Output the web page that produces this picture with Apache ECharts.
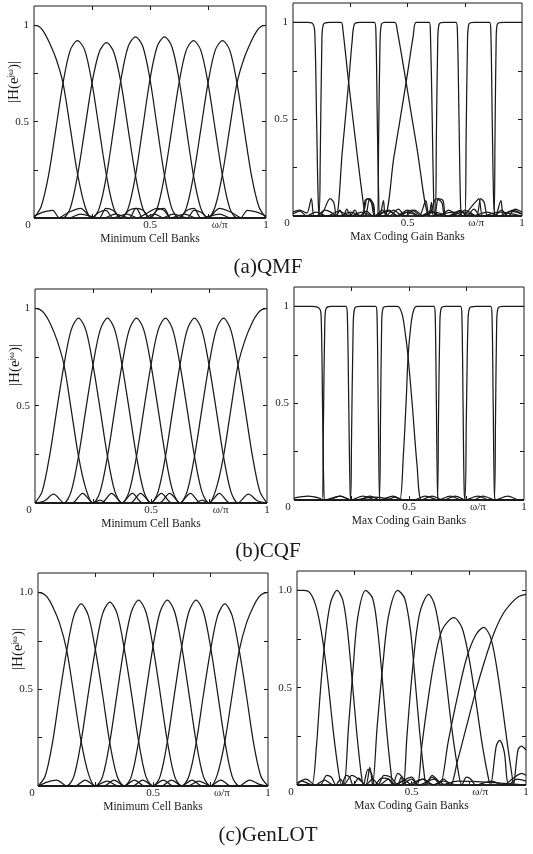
<!DOCTYPE html>
<html>
<head>
<meta charset="utf-8">
<script src="https://cdn.jsdelivr.net/npm/echarts@6/dist/echarts.min.js"></script>
<style>
  html, body { margin: 0; padding: 0; background: #fff; }
  #chart { width: 533px; height: 854px; }
</style>
</head>
<body>
<div id="chart"></div>
<script>
// 轴刻度与文字
const xTickValues = [0.25, 0.5, 0.75];
const xLabelValues = [0, 0.5, 0.8, 1];
const xLabelText = ['{z|0}', '0.5', 'ω/π', '1'];
const yTickValues = [0.25, 0.5, 0.75, 1];
const yLabelValues = [0.5, 1];
const yLabelText = [['0.5', '1'], ['0.5', '1'], ['0.5', '1.0']];
const xNames = ['Minimum Cell Banks', 'Max Coding Gain Banks'];
const captions = ['(a)QMF', '(b)CQF', '(c)GenLOT'];

// 每个面板 8 条幅频曲线 [ω/π, |H|]
const qmfMinCell = [
  [[0,1],[0.02,0.995],[0.04,0.97],[0.0625,0.92],[0.094,0.83],[0.125,0.7],[0.156,0.47],[0.1875,0.23],[0.22,0.06],[0.25,0],[0.28,0.03],[0.31,0.04],[0.34,0],[0.4,0.02],[0.45,0],[1,0]],
  [[0,0],[0.031,0.06],[0.0625,0.22],[0.094,0.46],[0.125,0.7],[0.156,0.87],[0.1875,0.92],[0.219,0.87],[0.25,0.7],[0.281,0.46],[0.3125,0.22],[0.344,0.05],[0.375,0],[0.41,0.04],[0.44,0.05],[0.47,0],[0.52,0.02],[0.56,0],[1,0]],
  [[0,0.01],[0.04,0.03],[0.08,0.04],[0.11,0],[0.125,0],[0.156,0.05],[0.1875,0.22],[0.219,0.46],[0.25,0.7],[0.281,0.86],[0.3125,0.91],[0.344,0.86],[0.375,0.7],[0.406,0.46],[0.4375,0.22],[0.469,0.05],[0.5,0],[0.53,0.04],[0.56,0.05],[0.59,0],[0.65,0.02],[0.7,0],[1,0]],
  [[0,0],[0.1,0],[0.15,0.03],[0.2,0.05],[0.25,0],[0.281,0.05],[0.3125,0.22],[0.344,0.47],[0.375,0.72],[0.406,0.89],[0.4375,0.94],[0.469,0.89],[0.5,0.72],[0.531,0.47],[0.5625,0.22],[0.594,0.05],[0.625,0],[0.66,0.04],[0.69,0.05],[0.72,0],[0.8,0.02],[0.85,0],[1,0]],
  [[0,0],[0.15,0],[0.2,0.02],[0.28,0],[0.31,0.05],[0.34,0.04],[0.375,0],[0.406,0.05],[0.4375,0.22],[0.469,0.47],[0.5,0.72],[0.531,0.89],[0.5625,0.94],[0.594,0.89],[0.625,0.72],[0.656,0.47],[0.6875,0.22],[0.719,0.05],[0.75,0],[0.8,0.05],[0.85,0.03],[0.9,0],[1,0]],
  [[0,0],[0.3,0],[0.35,0.02],[0.41,0],[0.44,0.05],[0.47,0.04],[0.5,0],[0.531,0.05],[0.5625,0.22],[0.594,0.46],[0.625,0.7],[0.656,0.87],[0.6875,0.92],[0.719,0.87],[0.75,0.7],[0.781,0.46],[0.8125,0.22],[0.844,0.05],[0.875,0],[0.89,0],[0.92,0.04],[0.96,0.03],[1,0.01]],
  [[0,0],[0.44,0],[0.48,0.02],[0.53,0.05],[0.56,0.04],[0.59,0],[0.625,0],[0.656,0.05],[0.6875,0.22],[0.719,0.46],[0.75,0.7],[0.781,0.87],[0.8125,0.92],[0.844,0.87],[0.875,0.7],[0.906,0.46],[0.9375,0.22],[0.969,0.06],[1,0]],
  [[0,0],[0.55,0],[0.6,0.02],[0.66,0],[0.69,0.04],[0.72,0.03],[0.75,0],[0.781,0.06],[0.8125,0.23],[0.844,0.47],[0.875,0.7],[0.906,0.83],[0.9375,0.92],[0.96,0.97],[0.98,0.995],[1,1]]
];

const qmfMaxGain = [
  [[0,1],[0.06,1],[0.085,0.995],[0.095,0.95],[0.103,0.5],[0.111,0.05],[0.118,0],[0.135,0.03],[0.162,0.09],[0.178,0.07],[0.19,0],[0.205,0.03],[0.22,0],[0.235,0.035],[0.25,0],[0.27,0.03],[0.29,0],[0.32,0.025],[0.35,0],[0.42,0.03],[0.45,0],[0.5,0.02],[0.55,0],[0.62,0.02],[0.68,0],[0.72,0.025],[0.78,0],[0.85,0.02],[0.9,0],[0.95,0.025],[1,0.01]],
  [[0,0.02],[0.03,0.03],[0.06,0.015],[0.08,0.09],[0.092,0],[0.112,0],[0.119,0.3],[0.126,0.9],[0.133,0.99],[0.16,1],[0.21,1],[0.218,0.96],[0.243,0.69],[0.28,0.32],[0.31,0.04],[0.318,0],[0.335,0.09],[0.352,0.06],[0.36,0],[0.39,0.03],[0.42,0],[0.46,0.035],[0.49,0],[0.53,0.03],[0.57,0],[0.61,0.02],[0.65,0],[1,0]],
  [[0,0],[0.1,0],[0.14,0.03],[0.165,0.02],[0.188,0],[0.215,0.33],[0.243,0.69],[0.258,0.9],[0.268,0.99],[0.29,1],[0.355,1],[0.362,0.95],[0.368,0.5],[0.375,0.05],[0.38,0],[0.395,0.08],[0.405,0],[0.44,0.03],[0.48,0],[0.7,0],[0.73,0.03],[0.76,0],[0.79,0.035],[0.82,0],[1,0]],
  [[0,0],[0.2,0],[0.25,0.02],[0.3,0],[0.325,0.09],[0.342,0.07],[0.355,0],[0.368,0],[0.374,0.4],[0.38,0.9],[0.386,0.99],[0.4,1],[0.445,1],[0.455,0.96],[0.494,0.69],[0.54,0.36],[0.594,0],[0.605,0.07],[0.615,0],[0.7,0.02],[0.75,0],[0.88,0],[0.91,0.03],[0.94,0],[0.97,0.035],[1,0.02]],
  [[0,0],[0.3,0],[0.315,0.08],[0.33,0.09],[0.35,0.05],[0.36,0],[0.399,0],[0.44,0.3],[0.494,0.69],[0.525,0.93],[0.538,1],[0.595,1],[0.6,0.95],[0.608,0.5],[0.615,0.05],[0.62,0],[0.635,0.09],[0.655,0.08],[0.67,0],[0.75,0.02],[0.8,0],[1,0]],
  [[0,0],[0.45,0],[0.5,0.03],[0.55,0],[0.58,0.08],[0.595,0],[0.62,0],[0.626,0.4],[0.632,0.9],[0.638,0.99],[0.66,1],[0.712,1],[0.718,0.95],[0.725,0.5],[0.732,0.05],[0.74,0],[0.795,0.07],[0.812,0.09],[0.83,0],[0.9,0.02],[1,0]],
  [[0,0],[0.55,0],[0.6,0.02],[0.625,0.09],[0.65,0.07],[0.665,0],[0.75,0],[0.756,0.4],[0.762,0.9],[0.768,0.99],[0.79,1],[0.858,1],[0.864,0.95],[0.87,0.5],[0.877,0.05],[0.885,0],[0.908,0.08],[0.92,0],[0.96,0.03],[1,0.01]],
  [[0,0.01],[0.03,0.025],[0.06,0],[0.1,0.02],[0.15,0],[0.2,0.025],[0.25,0],[0.3,0.02],[0.35,0],[0.42,0.025],[0.46,0],[0.52,0.03],[0.56,0],[0.6,0.025],[0.64,0],[0.68,0.03],[0.72,0],[0.75,0.03],[0.8,0],[0.82,0.09],[0.835,0.07],[0.85,0],[0.877,0],[0.882,0.4],[0.887,0.9],[0.892,0.99],[0.92,1],[1,1]]
];

const cqfMinCell = [
  [[0,1],[0.02,0.995],[0.04,0.975],[0.0625,0.93],[0.094,0.84],[0.125,0.71],[0.156,0.48],[0.1875,0.24],[0.22,0.07],[0.25,0],[0.28,0.015],[0.31,0],[1,0]],
  [[0,0],[0.031,0.06],[0.0625,0.24],[0.094,0.48],[0.125,0.71],[0.156,0.89],[0.1875,0.95],[0.219,0.89],[0.25,0.71],[0.281,0.48],[0.3125,0.24],[0.344,0.06],[0.375,0],[0.42,0.05],[0.465,0],[1,0]],
  [[0,0],[0.04,0.01],[0.08,0.045],[0.125,0],[0.156,0.06],[0.1875,0.24],[0.219,0.48],[0.25,0.71],[0.281,0.89],[0.3125,0.95],[0.344,0.89],[0.375,0.71],[0.406,0.48],[0.4375,0.24],[0.469,0.06],[0.5,0],[0.545,0.05],[0.59,0],[1,0]],
  [[0,0],[0.16,0],[0.205,0.05],[0.25,0],[0.281,0.06],[0.3125,0.24],[0.344,0.48],[0.375,0.71],[0.406,0.89],[0.4375,0.95],[0.469,0.89],[0.5,0.71],[0.531,0.48],[0.5625,0.24],[0.594,0.06],[0.625,0],[0.67,0.05],[0.715,0],[1,0]],
  [[0,0],[0.285,0],[0.33,0.05],[0.375,0],[0.406,0.06],[0.4375,0.24],[0.469,0.48],[0.5,0.71],[0.531,0.89],[0.5625,0.95],[0.594,0.89],[0.625,0.71],[0.656,0.48],[0.6875,0.24],[0.719,0.06],[0.75,0],[0.795,0.05],[0.84,0],[1,0]],
  [[0,0],[0.41,0],[0.455,0.05],[0.5,0],[0.531,0.06],[0.5625,0.24],[0.594,0.48],[0.625,0.71],[0.656,0.89],[0.6875,0.95],[0.719,0.89],[0.75,0.71],[0.781,0.48],[0.8125,0.24],[0.844,0.06],[0.875,0],[0.92,0.045],[0.96,0.01],[1,0]],
  [[0,0],[0.535,0],[0.58,0.05],[0.625,0],[0.656,0.06],[0.6875,0.24],[0.719,0.48],[0.75,0.71],[0.781,0.89],[0.8125,0.95],[0.844,0.89],[0.875,0.71],[0.906,0.48],[0.9375,0.24],[0.969,0.06],[1,0]],
  [[0,0],[0.69,0],[0.72,0.015],[0.75,0],[0.78,0.07],[0.8125,0.24],[0.844,0.48],[0.875,0.71],[0.906,0.84],[0.9375,0.93],[0.96,0.975],[0.98,0.995],[1,1]]
];

const cqfMaxGain = [
  [[0,1],[0.08,1],[0.11,0.99],[0.118,0.95],[0.124,0.5],[0.13,0.04],[0.135,0],[0.2,0.02],[0.25,0],[0.35,0.015],[0.45,0],[1,0]],
  [[0,0.01],[0.06,0.02],[0.11,0.01],[0.122,0],[0.128,0.4],[0.134,0.92],[0.14,0.99],[0.16,1],[0.225,1],[0.232,0.95],[0.238,0.5],[0.244,0.05],[0.25,0],[0.3,0.02],[0.36,0],[1,0]],
  [[0,0],[0.15,0],[0.2,0.02],[0.245,0],[0.25,0.3],[0.257,0.88],[0.264,0.99],[0.29,1],[0.355,1],[0.361,0.95],[0.366,0.5],[0.371,0.05],[0.376,0],[0.43,0.02],[0.48,0],[1,0]],
  [[0,0],[0.28,0],[0.33,0.02],[0.37,0],[0.376,0.4],[0.381,0.9],[0.387,0.99],[0.41,1],[0.45,1],[0.47,0.96],[0.485,0.85],[0.496,0.74],[0.515,0.48],[0.535,0.18],[0.555,0],[0.6,0.02],[0.65,0],[1,0]],
  [[0,0],[0.4,0],[0.44,0.015],[0.46,0],[0.475,0.22],[0.488,0.52],[0.496,0.74],[0.508,0.9],[0.52,0.98],[0.535,1],[0.608,1],[0.614,0.95],[0.619,0.5],[0.624,0.05],[0.63,0],[0.68,0.02],[0.73,0],[1,0]],
  [[0,0],[0.52,0],[0.57,0.02],[0.622,0],[0.628,0.4],[0.634,0.9],[0.64,0.99],[0.66,1],[0.724,1],[0.73,0.95],[0.735,0.5],[0.74,0.05],[0.746,0],[0.8,0.02],[0.85,0],[1,0]],
  [[0,0],[0.65,0],[0.7,0.02],[0.742,0],[0.749,0.4],[0.756,0.9],[0.763,0.99],[0.79,1],[0.855,1],[0.861,0.95],[0.866,0.5],[0.871,0.05],[0.877,0],[0.93,0.02],[0.98,0],[1,0]],
  [[0,0],[0.78,0],[0.82,0.02],[0.87,0],[0.876,0.4],[0.881,0.9],[0.887,0.99],[0.91,1],[1,1]]
];

const genlotMinCell = [
  [[0,1],[0.02,0.995],[0.04,0.975],[0.0625,0.93],[0.094,0.84],[0.125,0.7],[0.156,0.47],[0.1875,0.23],[0.22,0.06],[0.25,0],[0.3,0.025],[0.35,0],[1,0]],
  [[0,0],[0.031,0.05],[0.0625,0.22],[0.094,0.47],[0.125,0.7],[0.156,0.88],[0.1875,0.94],[0.219,0.88],[0.25,0.7],[0.281,0.47],[0.3125,0.22],[0.344,0.05],[0.375,0],[0.42,0.03],[0.465,0],[1,0]],
  [[0,0],[0.04,0.02],[0.08,0.03],[0.125,0],[0.156,0.05],[0.1875,0.23],[0.219,0.48],[0.25,0.71],[0.281,0.89],[0.3125,0.95],[0.344,0.89],[0.375,0.71],[0.406,0.48],[0.4375,0.23],[0.469,0.05],[0.5,0],[0.545,0.03],[0.59,0],[1,0]],
  [[0,0],[0.16,0],[0.205,0.03],[0.25,0],[0.281,0.05],[0.3125,0.23],[0.344,0.48],[0.375,0.72],[0.406,0.9],[0.4375,0.96],[0.469,0.9],[0.5,0.72],[0.531,0.48],[0.5625,0.23],[0.594,0.05],[0.625,0],[0.67,0.03],[0.715,0],[1,0]],
  [[0,0],[0.285,0],[0.33,0.03],[0.375,0],[0.406,0.05],[0.4375,0.23],[0.469,0.48],[0.5,0.72],[0.531,0.9],[0.5625,0.96],[0.594,0.9],[0.625,0.72],[0.656,0.48],[0.6875,0.23],[0.719,0.05],[0.75,0],[0.795,0.03],[0.84,0],[1,0]],
  [[0,0],[0.41,0],[0.455,0.03],[0.5,0],[0.531,0.05],[0.5625,0.23],[0.594,0.48],[0.625,0.72],[0.656,0.9],[0.6875,0.96],[0.719,0.9],[0.75,0.72],[0.781,0.48],[0.8125,0.23],[0.844,0.05],[0.875,0],[0.92,0.03],[0.96,0.01],[1,0]],
  [[0,0],[0.535,0],[0.58,0.03],[0.625,0],[0.656,0.05],[0.6875,0.22],[0.719,0.47],[0.75,0.7],[0.781,0.88],[0.8125,0.94],[0.844,0.88],[0.875,0.7],[0.906,0.47],[0.9375,0.22],[0.969,0.05],[1,0]],
  [[0,0],[0.65,0],[0.7,0.025],[0.75,0],[0.78,0.06],[0.8125,0.23],[0.844,0.47],[0.875,0.7],[0.906,0.84],[0.9375,0.93],[0.96,0.975],[0.98,0.995],[1,1]]
];

const genlotMaxGain = [
  [[0,1],[0.03,1],[0.055,0.99],[0.08,0.93],[0.1,0.83],[0.12,0.68],[0.14,0.48],[0.16,0.26],[0.18,0.08],[0.195,0],[0.215,0.05],[0.23,0.04],[0.245,0],[0.27,0.035],[0.3,0],[0.33,0.03],[0.36,0],[0.4,0.03],[0.43,0],[0.47,0.025],[0.5,0],[0.55,0.03],[0.59,0],[0.64,0.02],[0.7,0],[1,0]],
  [[0,0],[0.02,0.02],[0.045,0.01],[0.065,0],[0.085,0.2],[0.1,0.45],[0.12,0.72],[0.145,0.93],[0.175,1],[0.2,0.95],[0.22,0.8],[0.24,0.55],[0.26,0.28],[0.28,0.06],[0.29,0],[0.31,0.08],[0.325,0.06],[0.34,0],[0.37,0.035],[0.4,0.03],[0.42,0],[0.5,0.04],[0.53,0],[0.6,0.03],[0.65,0],[1,0]],
  [[0,0],[0.1,0],[0.13,0.05],[0.15,0.04],[0.17,0],[0.19,0.03],[0.205,0],[0.225,0.3],[0.245,0.6],[0.265,0.86],[0.3,1],[0.33,0.96],[0.35,0.82],[0.37,0.58],[0.39,0.3],[0.41,0.07],[0.42,0],[0.44,0.06],[0.46,0.04],[0.48,0],[0.55,0.03],[0.6,0],[1,0]],
  [[0,0],[0.2,0],[0.24,0.05],[0.27,0.03],[0.3,0],[0.318,0.09],[0.33,0],[0.35,0.3],[0.375,0.62],[0.4,0.87],[0.44,1],[0.47,0.96],[0.495,0.8],[0.515,0.55],[0.535,0.28],[0.555,0.06],[0.565,0],[0.59,0.05],[0.61,0.03],[0.63,0],[0.7,0.02],[1,0]],
  [[0,0],[0.35,0],[0.38,0.05],[0.41,0.04],[0.44,0],[0.455,0.04],[0.465,0],[0.48,0.25],[0.505,0.6],[0.535,0.88],[0.575,0.98],[0.6,0.93],[0.625,0.78],[0.65,0.55],[0.675,0.3],[0.7,0.1],[0.72,0],[0.74,0.04],[0.76,0.03],[0.78,0],[0.85,0.02],[0.9,0],[0.95,0.04],[0.98,0.06],[1,0.05]],
  [[0,0],[0.45,0],[0.5,0.03],[0.525,0],[0.545,0.2],[0.57,0.42],[0.6,0.64],[0.635,0.8],[0.685,0.86],[0.72,0.81],[0.75,0.66],[0.78,0.44],[0.81,0.2],[0.835,0.04],[0.845,0],[0.87,0.2],[0.885,0.23],[0.905,0.17],[0.925,0],[0.96,0.03],[1,0.02]],
  [[0,0],[0.55,0],[0.59,0.04],[0.61,0.02],[0.625,0],[0.66,0.22],[0.7,0.45],[0.74,0.65],[0.78,0.77],[0.815,0.81],[0.845,0.76],[0.87,0.62],[0.895,0.42],[0.92,0.2],[0.94,0.04],[0.945,0],[0.965,0.18],[0.98,0.2],[1,0.18]],
  [[0,0.01],[0.04,0.03],[0.08,0],[0.12,0.025],[0.16,0],[0.6,0],[0.64,0.03],[0.67,0],[0.7,0.12],[0.74,0.3],[0.78,0.48],[0.82,0.64],[0.86,0.78],[0.9,0.88],[0.94,0.94],[0.97,0.97],[1,0.98]]
];

const panelData = [qmfMinCell, qmfMaxGain, cqfMinCell, cqfMaxGain, genlotMinCell, genlotMaxGain];

// 面板位置 (px)
const layout = [
  { left: 34, top: 6, width: 232, height: 212 },
  { left: 293, top: 3, width: 229, height: 213 },
  { left: 35, top: 289, width: 232, height: 214 },
  { left: 294, top: 287, width: 230, height: 213 },
  { left: 38, top: 573, width: 230, height: 213 },
  { left: 297, top: 571, width: 229, height: 214 }
];
const captionY = [267, 551, 835];

const serif = "'Liberation Serif', 'DejaVu Serif', serif";
const ink = '#1a1a1a';

function pick(values, texts, v) {
  for (let i = 0; i < values.length; i++) {
    if (Math.abs(values[i] - v) < 1e-6) return texts[i];
  }
  return '';
}

const grids = [], xAxes = [], yAxes = [], series = [], graphics = [];

layout.forEach((p, i) => {
  const row = Math.floor(i / 2);
  grids.push({
    left: p.left, top: p.top, width: p.width, height: p.height,
    show: true, borderColor: ink, borderWidth: 1, backgroundColor: 'transparent'
  });
  const tick = { show: true, inside: true, length: 4, lineStyle: { color: ink, width: 1 } };
  const noLine = { show: false, onZero: false };
  xAxes.push({
    type: 'value', gridIndex: i, min: 0, max: 1, position: 'bottom',
    axisLine: noLine, splitLine: { show: false },
    axisTick: Object.assign({ customValues: xTickValues }, tick),
    axisLabel: {
      customValues: xLabelValues,
      formatter: v => pick(xLabelValues, xLabelText, v),
      margin: 2, fontFamily: serif, fontSize: 11, color: ink,
      rich: { z: { fontFamily: serif, fontSize: 11, color: ink, padding: [0, 12, 0, 0] } }
    },
    name: xNames[i % 2], nameLocation: 'middle', nameGap: 15,
    nameTextStyle: { fontFamily: serif, fontSize: 11.5, color: ink }
  });
  xAxes.push({
    type: 'value', gridIndex: i, min: 0, max: 1, position: 'top',
    axisLine: noLine, splitLine: { show: false },
    axisTick: Object.assign({ customValues: xTickValues }, tick),
    axisLabel: { show: false }
  });
  yAxes.push({
    type: 'value', gridIndex: i, min: 0, max: 1.1, position: 'left',
    axisLine: noLine, splitLine: { show: false },
    axisTick: Object.assign({ customValues: yTickValues }, tick),
    axisLabel: {
      customValues: yLabelValues,
      formatter: v => pick(yLabelValues, yLabelText[row], v),
      margin: 5, fontFamily: serif, fontSize: 11, color: ink
    }
  });
  yAxes.push({
    type: 'value', gridIndex: i, min: 0, max: 1.1, position: 'right',
    axisLine: noLine, splitLine: { show: false },
    axisTick: Object.assign({ customValues: yTickValues }, tick),
    axisLabel: { show: false }
  });

  panelData[i].forEach(curve => {
    series.push({
      type: 'line', xAxisIndex: 2 * i, yAxisIndex: 2 * i,
      data: curve, showSymbol: false, smooth: 0.3, silent: true,
      lineStyle: { color: ink, width: 1.25 }
    });
  });

  // 左列纵轴名 |H(e^jω)|
  if (i % 2 === 0) {
    graphics.push({
      type: 'text', x: p.left - 20, y: p.top + 76, rotation: Math.PI / 2,
      style: {
        text: '{n||H(e}{s|jω}{n|)|}',
        align: 'center', verticalAlign: 'middle', fill: ink,
        rich: {
          n: { fontFamily: serif, fontSize: 15, lineHeight: 16, fill: ink },
          s: { fontFamily: serif, fontSize: 9, lineHeight: 16, verticalAlign: 'top', fill: ink }
        }
      }
    });
  }
});

captions.forEach((c, r) => {
  graphics.push({
    type: 'text', x: 268, y: captionY[r],
    style: { text: c, fontFamily: serif, fontSize: 21, fill: ink, align: 'center', verticalAlign: 'middle' }
  });
});

const chart = echarts.init(document.getElementById('chart'));
chart.setOption({
  animation: false,
  backgroundColor: '#fff',
  grid: grids,
  xAxis: xAxes,
  yAxis: yAxes,
  series: series,
  graphic: graphics
});
</script>
</body>
</html>
